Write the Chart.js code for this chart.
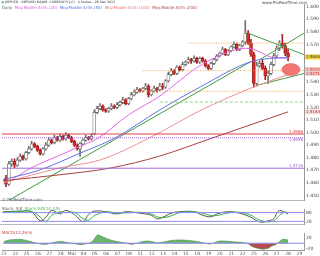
<!DOCTYPE html>
<html>
<head>
<meta charset="utf-8">
<script src="https://cdn.jsdelivr.net/npm/chart.js@4.4.0/dist/chart.umd.min.js"></script>
<style>
html, body { margin: 0; padding: 0; background: #fff; }
#wrap { position: relative; width: 320px; height: 256px; overflow: hidden; font-family: "DejaVu Sans", sans-serif; }
canvas { position: absolute; left: 0; }
.t { position: absolute; white-space: nowrap; font-size: 4px; line-height: 5px; z-index: 2; }
</style>
</head>
<body>
<div id="wrap">
  <canvas id="main" width="320" height="205" style="top:0"></canvas>
  <canvas id="stoch" width="320" height="24" style="top:205px"></canvas>
  <canvas id="macd" width="320" height="27" style="top:229px"></canvas>

  <div class="t" style="left:2px;top:0px;color:#333;font-size:3.2px"><span style="color:#3a9a3a">▮</span> GBPUSD - GBP/USD MAJOR &nbsp;CURRENCY(1,C) &nbsp; 4 heures - 28 Mar 2013</div>
  <div class="t" style="left:2px;top:5px;color:#666">Daily&nbsp;
    <span style="color:#e060e0">Moy.Mobile Arith.(20)</span>&nbsp;
    <span style="color:#5b6ee0">Moy.Mobile Arith.(50)</span>&nbsp;
    <span style="color:#ef7070">Moy.Mobile Arith.(100)</span>&nbsp;
    <span style="color:#b04848">Moy.Mobile Arith.(200)</span>
  </div>
  <div class="t" style="left:262px;top:0px;color:#444">www.ProRealTime.com</div>
  <div class="t" style="left:2px;top:197px;color:#557">© ProRealTime.com</div>
  <div class="t" style="left:2px;top:206px;color:#555">Stoch. %K&nbsp; <span style="color:#3cb043">Stoch %D(14,3,5)</span></div>
  <div class="t" style="left:2px;top:230px;color:#d04040">MACD(12,26,9)</div>
</div>

<script>
// day labels on the time axis, 4 candles per day
const dayLabels = ['21','22','25','26','27','28','Mar','04','05','06','07','08','11','12','13','14','15','18','19','20','21','22','25','26','27','28','29'];
const slotsPerDay = 4;

// candles (slot = index + 1)
const opens = [1.4640,1.4590,1.4750,1.4770,1.4740,1.4780,1.4810,1.4790,1.4840,1.4870,
  1.4910,1.4890,1.4860,1.4830,1.4870,1.4900,1.4940,1.4920,1.4960,1.4940,
  1.4970,1.4950,1.4980,1.4960,1.4930,1.4900,1.4870,1.4910,1.4940,1.4960,
  1.4950,1.4990,1.5160,1.5190,1.5210,1.5180,1.5170,1.5190,1.5210,1.5200,
  1.5220,1.5240,1.5260,1.5230,1.5270,1.5300,1.5320,1.5340,1.5330,1.5350,
  1.5370,1.5300,1.5330,1.5350,1.5340,1.5370,1.5360,1.5410,1.5460,1.5490,
  1.5470,1.5520,1.5500,1.5540,1.5560,1.5580,1.5570,1.5590,1.5560,1.5590,
  1.5570,1.5530,1.5510,1.5550,1.5580,1.5610,1.5630,1.5660,1.5620,1.5650,
  1.5680,1.5700,1.5660,1.5690,1.5720,1.5790,1.5710,1.5620,1.5390,1.5530,
  1.5550,1.5510,1.5450,1.5470,1.5540,1.5610,1.5670,1.5710,1.5690,1.5630];
const highs = [1.4660,1.4770,1.4790,1.4790,1.4800,1.4830,1.4820,1.4850,1.4890,1.4930,
  1.4920,1.4900,1.4870,1.4880,1.4920,1.4960,1.4950,1.4980,1.4970,1.4990,
  1.4980,1.5000,1.4990,1.4970,1.4940,1.4910,1.4920,1.4950,1.4980,1.4970,
  1.4990,1.5180,1.5210,1.5230,1.5220,1.5190,1.5200,1.5230,1.5220,1.5240,
  1.5250,1.5280,1.5270,1.5280,1.5320,1.5340,1.5360,1.5350,1.5360,1.5390,
  1.5380,1.5340,1.5370,1.5360,1.5390,1.5390,1.5420,1.5480,1.5510,1.5500,
  1.5530,1.5530,1.5560,1.5570,1.5600,1.5590,1.5610,1.5600,1.5600,1.5600,
  1.5580,1.5540,1.5560,1.5590,1.5620,1.5640,1.5680,1.5670,1.5660,1.5690,
  1.5720,1.5710,1.5700,1.5730,1.5890,1.5810,1.5740,1.5640,1.5560,1.5570,
  1.5580,1.5530,1.5490,1.5560,1.5630,1.5690,1.5730,1.5780,1.5710,1.5660];
const lows = [1.4570,1.4580,1.4730,1.4720,1.4730,1.4770,1.4780,1.4780,1.4830,1.4860,
  1.4880,1.4850,1.4820,1.4820,1.4860,1.4890,1.4910,1.4910,1.4930,1.4930,
  1.4940,1.4940,1.4950,1.4920,1.4890,1.4860,1.4810,1.4900,1.4930,1.4940,
  1.4940,1.4980,1.5150,1.5180,1.5170,1.5160,1.5160,1.5180,1.5190,1.5190,
  1.5210,1.5230,1.5220,1.5220,1.5260,1.5290,1.5310,1.5320,1.5320,1.5340,
  1.5280,1.5290,1.5320,1.5320,1.5330,1.5340,1.5350,1.5400,1.5450,1.5460,
  1.5460,1.5490,1.5490,1.5530,1.5550,1.5550,1.5560,1.5550,1.5550,1.5560,
  1.5520,1.5500,1.5500,1.5540,1.5570,1.5600,1.5620,1.5610,1.5610,1.5640,
  1.5670,1.5650,1.5650,1.5680,1.5700,1.5700,1.5605,1.5360,1.5370,1.5520,
  1.5500,1.5420,1.5390,1.5460,1.5530,1.5590,1.5650,1.5670,1.5610,1.5570];
const closes = [1.4590,1.4750,1.4770,1.4740,1.4780,1.4810,1.4790,1.4840,1.4870,1.4910,
  1.4890,1.4860,1.4830,1.4870,1.4900,1.4940,1.4920,1.4960,1.4940,1.4970,
  1.4950,1.4980,1.4960,1.4930,1.4900,1.4870,1.4910,1.4940,1.4960,1.4950,
  1.4970,1.5160,1.5190,1.5210,1.5180,1.5170,1.5190,1.5210,1.5200,1.5220,
  1.5240,1.5260,1.5230,1.5270,1.5300,1.5320,1.5340,1.5330,1.5350,1.5370,
  1.5300,1.5330,1.5350,1.5340,1.5370,1.5360,1.5410,1.5460,1.5490,1.5470,
  1.5520,1.5500,1.5540,1.5560,1.5580,1.5570,1.5590,1.5560,1.5590,1.5570,
  1.5530,1.5510,1.5550,1.5580,1.5610,1.5630,1.5660,1.5620,1.5650,1.5680,
  1.5700,1.5660,1.5690,1.5720,1.5790,1.5710,1.5620,1.5390,1.5530,1.5550,
  1.5510,1.5450,1.5470,1.5540,1.5610,1.5670,1.5710,1.5690,1.5630,1.5600];

const priceTicks = [1.45,1.46,1.47,1.48,1.49,1.50,1.51,1.52,1.53,1.54,1.55,1.56,1.57,1.58,1.59,1.60];

// moving averages, [slot, value]
const ma20 = [[2,1.461],[10,1.472],[20,1.482],[27,1.489],[33,1.495],[44,1.514],[55,1.529],[67,1.550],[73,1.558],[85,1.567],[88,1.566],[94,1.560],[100,1.559]];
const ma50 = [[0,1.4625],[13,1.4703],[27,1.4836],[39,1.4953],[55,1.518],[69,1.536],[87,1.5563],[100,1.560]];
const ma100 = [[0,1.4600],[20,1.4719],[34,1.4781],[51,1.4953],[69,1.5172],[86,1.5344],[100,1.5461]];
const ma200 = [[0,1.4617],[20,1.4664],[38,1.4719],[55,1.4813],[73,1.4953],[100,1.5164]];

// trend lines, [slot, price]
const supportLine = [[2,1.4461],[87,1.5565]];
const triangleTop = [[86,1.5789],[105.6,1.5619]];
const triangleRise = [[90,1.5578],[105.6,1.5789]];
const triangleBase = [[89,1.5375],[105.6,1.5469]];

// horizontal levels
const solidLevels = [1.4988, 1.4716];
const purpleDotLevel = 1.4958;
const orangeLevels = [1.5711, 1.5492, 1.5328];
const orangeStarts = [65, 49, 46];
const greenLevel = 1.5242;
const greenStart = 55;

const zoneCenter = [101, 1.5500];
const priceMarkers = [1.5600, 1.5502, 1.5471, 1.5164];

// stochastic %K / %D, [slot, value]
const stochK = [[0,86],[6,90],[10,86],[13,24],[15,48],[17,95],[20,71],[22,95],[25,67],[28,19],[30,67],[32,90],[36,86],[40,71],[43,86],[48,76],[52,62],[54,38],[56,48],[59,76],[62,86],[67,86],[70,62],[73,52],[75,71],[79,86],[83,76],[87,48],[89,24],[91,14],[93,24],[95,38],[96,76],[97,95],[99,81],[100,70]];
const stochD = [[0,85],[6,88],[10,88],[13,50],[15,20],[17,60],[20,86],[22,80],[25,82],[28,40],[30,28],[32,60],[36,85],[40,78],[43,78],[48,82],[52,70],[54,52],[56,45],[59,58],[62,80],[67,86],[70,75],[73,60],[75,60],[79,78],[83,82],[87,62],[89,38],[91,24],[93,16],[95,24],[96,40],[97,62],[99,84],[100,80]];
const stochLevels = [80, 20];

// MACD, [slot, value]
const macd = [[0,6],[2,12],[6,14],[8,10],[10,4],[13,-3],[15,-4],[17,2],[20,6],[22,3],[25,-2],[27,-5],[29,-2],[31,5],[32,18],[33,30],[35,22],[38,10],[40,6],[43,0],[45,-4],[47,1],[50,8],[52,6],[54,1],[56,4],[59,10],[62,12],[66,9],[69,4],[72,-3],[73,-2],[76,8],[79,7],[82,4],[84,3],[86,-2],[87,-10],[89,-18],[91,-22],[93,-19],[94,-12],[96,-3],[97,6],[98,14],[100,12]];
const macdTicks = [-20, 0, 20];

const xMin = -0.4, xMax = 105.6;
const tickFont = { family: 'DejaVu Sans', size: 4.5 };

function pts(arr) {
    return arr.map(p => ({ x: p[0], y: p[1] }));
}

function lineSet(points, color, extra) {
    return Object.assign({
        type: 'line', data: pts(points), borderColor: color, borderWidth: 1,
        pointRadius: 0, tension: 0, fill: false, order: 1
    }, extra || {});
}

function levelSet(value, from, color, extra) {
    return lineSet([[from, value], [xMax, value]], color, extra);
}

const frame = {
    id: 'frame',
    afterDraw(chart) {
        const { ctx, chartArea: a } = chart;
        ctx.save();
        ctx.strokeStyle = '#b8b8b8';
        ctx.lineWidth = 1;
        ctx.beginPath();
        ctx.moveTo(0, Math.round(a.bottom) + 0.5);
        ctx.lineTo(a.right, Math.round(a.bottom) + 0.5);
        ctx.stroke();
        ctx.restore();
    }
};

const mainExtras = {
    id: 'mainExtras',
    afterDatasetsDraw(chart) {
        const { ctx, scales: { x, y }, chartArea: a } = chart;
        ctx.save();
        // target zone
        ctx.beginPath();
        ctx.ellipse(x.getPixelForValue(zoneCenter[0]), y.getPixelForValue(zoneCenter[1]), 9, 6, 0, 0, Math.PI * 2);
        ctx.fillStyle = '#f27474';
        ctx.fill();
        ctx.strokeStyle = '#e05555';
        ctx.lineWidth = 0.6;
        ctx.stroke();

        // labels on the level lines
        ctx.font = '4px DejaVu Sans';
        ctx.textAlign = 'right';
        ctx.textBaseline = 'bottom';
        const lvl = [[solidLevels[0], '#d83030'], [purpleDotLevel, '#9b59d0'], [solidLevels[1], '#9b59d0']];
        lvl.forEach(([v, c], i) => {
            ctx.fillStyle = c;
            const py = y.getPixelForValue(v);
            ctx.fillText(v.toFixed(4), a.right - 1, i === 1 ? py + 4 : py - 0.5);
        });
        ctx.restore();
    },
    afterDraw(chart) {
        const { ctx, scales: { y }, chartArea: a } = chart;
        const bg = ['#f2d23c', '#f6c8c8', '#f6c8c8', '#f8dede'];
        const fg = ['#333', '#c03030', '#c03030', '#b03030'];
        ctx.save();
        ctx.font = '4px DejaVu Sans';
        ctx.textAlign = 'left';
        ctx.textBaseline = 'middle';
        priceMarkers.forEach((v, i) => {
            const py = y.getPixelForValue(v);
            ctx.fillStyle = bg[i];
            ctx.fillRect(a.right + 1, py - 2.5, 15, 5);
            ctx.fillStyle = fg[i];
            ctx.fillText(v.toFixed(4), a.right + 2, py + 0.2);
        });
        ctx.restore();
    }
};

const rightAxis = (min, max, ticks, fmt) => ({
    position: 'right', min: min, max: max,
    grid: { display: false, drawTicks: false },
    border: { display: true, color: '#999' },
    ticks: { font: tickFont, color: '#444', padding: 2, callback: fmt },
    afterFit: s => { s.width = 16; },
    afterBuildTicks: s => { s.ticks = ticks.map(v => ({ value: v })); }
});

const hiddenX = { type: 'linear', min: xMin, max: xMax, offset: false, display: false };
const common = {
    responsive: false, animation: false,
    plugins: { legend: { display: false }, tooltip: { enabled: false } }
};

const slots = closes.map((c, i) => i + 1);
const isUp = i => closes[i] >= opens[i];

new Chart(document.getElementById('main'), {
    type: 'bar',
    data: {
        datasets: [
            levelSet(solidLevels[0], xMin, '#e04040'),
            levelSet(purpleDotLevel, xMin, '#9b6ad8', { borderDash: [1, 1] }),
            levelSet(solidLevels[1], xMin, '#a070d8'),
            ...orangeLevels.map((v, i) => levelSet(v, orangeStarts[i], '#f2a24a', { borderDash: [1, 1.5] })),
            levelSet(greenLevel, greenStart, '#8fd88f', { borderDash: [3, 2] }),
            lineSet(ma200, '#a84040', { tension: 0.4, cubicInterpolationMode: 'monotone' }),
            lineSet(ma100, '#f29090', { tension: 0.4, cubicInterpolationMode: 'monotone' }),
            lineSet(ma50, '#6272e0', { tension: 0.4, cubicInterpolationMode: 'monotone' }),
            lineSet(supportLine, '#3f9a3f'),
            lineSet(ma20, '#e466e4', { tension: 0.4, cubicInterpolationMode: 'monotone' }),
            lineSet(triangleTop, '#4a9a4a'),
            lineSet(triangleRise, '#4a9a4a'),
            lineSet(triangleBase, '#4a9a4a'),
            {
                type: 'bar', order: 6, grouped: false, barThickness: 1,
                data: slots.map((s, i) => ({ x: s, y: [lows[i], highs[i]] })),
                backgroundColor: ctx => isUp(ctx.dataIndex) ? '#707070' : '#b02020'
            },
            {
                type: 'bar', order: 5, grouped: false, barThickness: 3,
                data: slots.map((s, i) => ({ x: s, y: [opens[i], closes[i]] })),
                backgroundColor: ctx => isUp(ctx.dataIndex) ? '#ffffff' : '#d42a2a',
                borderColor: ctx => isUp(ctx.dataIndex) ? '#606060' : '#9a1a1a',
                borderWidth: 0.7, borderSkipped: false
            }
        ]
    },
    options: Object.assign({}, common, {
        layout: { padding: { left: 2, right: 0, top: 4, bottom: 2 } },
        scales: {
            x: hiddenX,
            y: rightAxis(1.4461, 1.6016, priceTicks, v => v.toFixed(3))
        }
    }),
    plugins: [frame, mainExtras]
});

new Chart(document.getElementById('stoch'), {
    type: 'line',
    data: {
        datasets: [
            ...stochLevels.map(v => levelSet(v, xMin, '#8a8af0')),
            lineSet(stochD, '#3cb043', { tension: 0.4 }),
            lineSet(stochK, '#555555', { tension: 0.4 })
        ]
    },
    options: Object.assign({}, common, {
        layout: { padding: { left: 2, right: 0, top: 2, bottom: 1 } },
        scales: {
            x: hiddenX,
            y: rightAxis(0, 100, stochLevels, v => String(v))
        }
    }),
    plugins: [frame]
});

new Chart(document.getElementById('macd'), {
    type: 'line',
    data: {
        datasets: [
            levelSet(0, xMin, '#8a8af0'),
            lineSet(macd, '#3d8a3d', {
                tension: 0.3, borderWidth: 0.6,
                fill: { target: 'origin', above: 'rgba(70,165,70,0.8)', below: 'rgba(170,45,45,0.85)' }
            })
        ]
    },
    options: Object.assign({}, common, {
        layout: { padding: { left: 2, right: 0, top: 1, bottom: 0 } },
        scales: {
            x: {
                type: 'linear', min: xMin, max: xMax, offset: false,
                grid: { display: false, drawTicks: false },
                border: { display: true, color: '#999' },
                ticks: {
                    font: tickFont, color: '#555', padding: 1, autoSkip: false, maxRotation: 0,
                    callback: (v, i) => dayLabels[i]
                },
                afterFit: s => { s.height = 6; },
                afterBuildTicks: s => { s.ticks = dayLabels.map((d, i) => ({ value: i * slotsPerDay })); }
            },
            y: rightAxis(-25, 35, macdTicks, v => String(v))
        }
    })
});
</script>
</body>
</html>
